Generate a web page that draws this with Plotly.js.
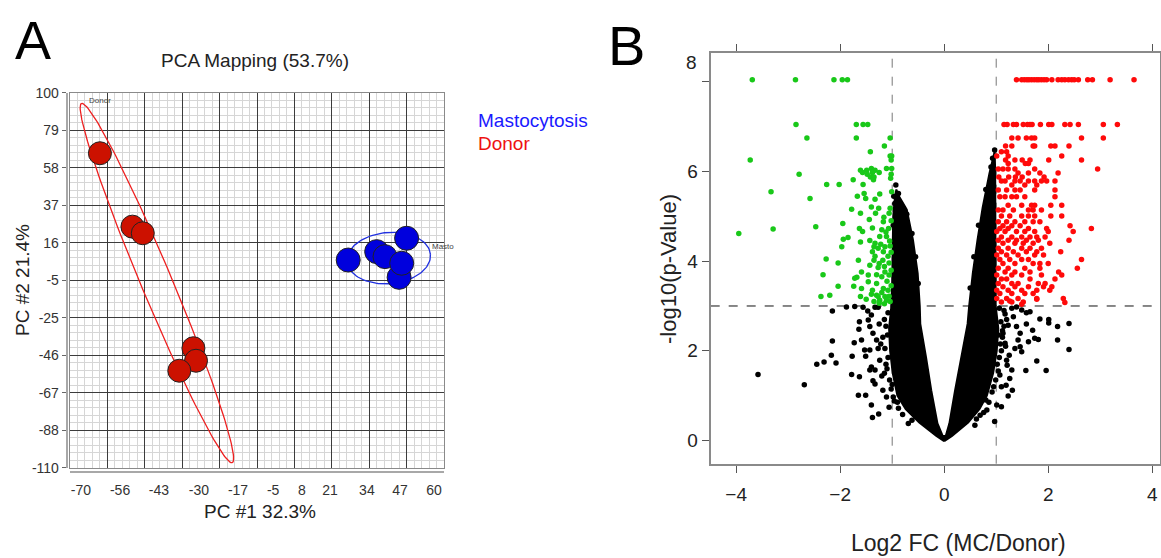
<!DOCTYPE html>
<html><head><meta charset="utf-8">
<script src="https://cdn.plot.ly/plotly-3.0.1.min.js"></script>
<style>html,body{margin:0;padding:0;background:#fff}#chart{width:1161px;height:558px}</style>
</head><body><div id="chart"></div>
<script>
const W = 1161, H = 558;
const F = 'Liberation Sans, Arial, sans-serif';

// ---------- Panel A: PCA ----------
const pcaTitle = 'PCA Mapping (53.7%)';
const pc1Label = 'PC #1 32.3%';
const pc2Label = 'PC #2 21.4%';
const groupNames = ['Mastocytosis', 'Donor'];
const groupTags = ['Masto', 'Donor'];
const pcaXTickLabels = ['-70','-56','-43','-30','-17','-5','8','21','34','47','60'];
const pcaYTickLabels = ['100','79','58','37','16','-5','-25','-46','-67','-88','-110'];
const donorPC1 = [-59.6, -48.3, -44.7, -27.1, -26.2, -32.0];
const donorPC2 = [66.1, 25.0, 21.3, -43.1, -50.1, -55.7];
const mastoPC1 = [26.7, 36.6, 39.5, 47.0, 44.4, 45.3];
const mastoPC2 = [6.3, 11.0, 8.2, 18.5, -3.4, 4.5];
// confidence ellipses: centre + two conjugate half-axis vectors (PC units)
const donorEllipse = {cx: -39.8, cy: -6.6, ux: 26.2, uy: -100.6, vx: 4.97, vy: 3.36};
const mastoEllipse = {cx: 40.8, cy: 7.4, ux: 14.5, uy: 2.07, vx: 0.79, vy: -14.3};

// ---------- Panel B: volcano ----------
const volcXTitle = 'Log2 FC (MC/Donor)';
const volcYTitle = '-log10(p-Value)';
const volcXTicks = [-4, -2, 0, 2, 4];
const volcYTicks = [0, 2, 4, 6, 8];
const fcCut = 1, pCut = 3;
// down-regulated (green): rows of [ -log10 p , [log2FC ...] ]
const downRows = [
 [8.05, [-3.69, -2.86, -2.12, -1.96, -1.86]],
 [7.05, [-2.85, -1.69, -1.56, -1.47]],
 [6.75, [-2.64, -1.69, -1.04]],
 [6.57, [-1.15]], [6.44, [-1.42]], [6.35, [-1.04, -1.01]], [6.26, [-3.73, -1.02]],
 [6.07, [-1.40, -1.11, -1.01]], [6.03, [-1.61, -1.49, -1.33]], [5.98, [-1.57, -1.38, -1.25]],
 [5.94, [-2.79, -1.48, -1.02]], [5.88, [-1.42, -1.35]], [5.85, [-1.03]], [5.82, [-1.75, -1.36]],
 [5.71, [-2.26, -2.02, -1.56]], [5.55, [-3.33, -1.01]], [5.51, [-1.54]], [5.50, [-1.24]],
 [5.45, [-1.67]], [5.40, [-2.58, -1.51]], [5.38, [-1.33]], [5.21, [-1.40]], [5.18, [-1.26, -1.04]],
 [5.16, [-1.78]], [5.07, [-1.61, -1.32, -1.06]], [4.98, [-1.16]], [4.93, [-1.44]], [4.90, [-1.02]],
 [4.88, [-1.17]], [4.84, [-1.95]], [4.77, [-2.47]], [4.73, [-1.63, -1.07]], [4.74, [-1.38]],
 [4.72, [-3.29]], [4.70, [-1.20]], [4.66, [-1.57]], [4.65, [-1.12]], [4.62, [-3.95]],
 [4.55, [-1.24, -1.11]], [4.53, [-1.85]], [4.49, [-1.94]], [4.46, [-1.43]], [4.45, [-1.05]],
 [4.43, [-1.61]], [4.40, [-1.33]], [4.38, [-1.22]], [4.34, [-1.04]], [4.32, [-1.97, -1.35, -1.14]],
 [4.29, [-1.27]], [4.21, [-1.38, -1.17]], [4.20, [-1.02]], [4.11, [-1.33, -1.08]], [4.05, [-2.27]],
 [4.02, [-1.65, -1.35, -1.18]], [3.96, [-2.04, -1.06]], [3.95, [-1.25]], [3.91, [-1.43]],
 [3.88, [-1.15]], [3.86, [-1.27]], [3.80, [-1.02]], [3.76, [-1.59, -1.14]], [3.70, [-2.33, -1.30]],
 [3.69, [-1.46, -1.06]], [3.65, [-1.20]], [3.64, [-1.68]], [3.62, [-1.72]], [3.55, [-1.10]],
 [3.54, [-1.46]], [3.50, [-1.30]], [3.45, [-1.02]], [3.44, [-2.04, -1.74]], [3.39, [-1.59, -1.17]],
 [3.35, [-1.38, -1.08]], [3.30, [-1.20]], [3.26, [-1.40]], [3.24, [-2.20, -1.30]],
 [3.22, [-1.06]], [3.21, [-2.37, -1.61, -1.27, -1.14]], [3.15, [-1.50]], [3.13, [-1.24, -1.11]],
 [3.10, [-1.35, -1.04]], [3.06, [-1.25]], [3.05, [-1.15]]
];
// up-regulated (red)
const upRows = [
 [8.05, [1.39,1.49,1.54,1.59,1.63,1.68,1.73,1.78,1.82,1.87,1.92,1.97,2.07,2.19,2.26,2.32,2.39,2.45,2.50,2.58,2.76,2.85,3.19,3.65]],
 [7.05, [1.15,1.21,1.33,1.39,1.52,1.60,1.65,1.69,1.85,2.01,2.07,2.32,2.42,2.58,3.06,3.33]],
 [6.75, [1.30,1.42,1.58,1.68,1.74,2.64,3.06]],
 [6.57, [1.18,1.30,1.71,1.74,2.05,2.13,2.40]],
 [6.44, [1.10,1.20]],
 [6.35, [1.01,1.23,2.26]],
 [6.26, [1.18,1.36,1.50,1.65,2.01,2.64]],
 [6.18, [1.23,1.56,1.62]],
 [6.06, [1.04,1.13,1.23,1.36,1.74,2.95]],
 [5.97, [1.42,1.62,1.84,2.19]],
 [5.88, [1.05,1.24,1.37,1.50,1.92]],
 [5.79, [1.10,1.17,1.36,1.46,1.62,1.74,1.87,1.97,2.13]],
 [5.70, [1.30,1.55,1.78]],
 [5.59, [1.04,1.20,1.36,1.46,1.74,2.13]],
 [5.44, [1.07,1.17,1.30,1.39,1.55,2.13]],
 [5.25, [1.23,1.49,1.68,1.74,2.05,2.26]],
 [5.14, [1.04,1.13,1.33,1.62,1.71,1.87]],
 [5.01, [1.10,1.26,1.49,1.62,1.74,2.05,2.26]],
 [4.88, [1.04,1.20,1.36,1.55,1.71,1.84]],
 [4.79, [1.13,1.30,1.46,2.42]],
 [4.73, [1.07,1.23,1.62,1.97,2.83]],
 [4.66, [1.01,1.17,1.39,1.55,1.74,2.00,2.48]],
 [4.54, [1.10,1.30,1.49,1.65,1.78,1.94]],
 [4.47, [1.04,1.23,1.39,1.58,1.81,2.40]],
 [4.40, [1.13,1.36,1.52,1.71,2.03]],
 [4.29, [1.04,1.23,1.49,1.65,1.87]],
 [4.21, [1.10,1.33,1.58,1.78,2.24]],
 [4.14, [1.01,1.20,1.42,1.74,1.91]],
 [4.04, [1.07,1.26,1.49,1.62,2.64]],
 [3.95, [1.13,1.36,1.71,1.84,2.00]],
 [3.84, [1.04,1.23,1.55,1.84,2.56]],
 [3.76, [1.17,1.36,1.65,2.20]],
 [3.69, [1.01,1.30,1.49,1.87,2.26]],
 [3.60, [1.10,1.20,1.65,2.13]],
 [3.50, [1.04,1.30,1.42,1.81,1.94]],
 [3.43, [1.13,1.36,1.62,1.91,2.07]],
 [3.35, [1.01,1.23,1.49,1.78,2.03]],
 [3.28, [1.07,1.30,1.55,1.71]],
 [3.17, [1.01,1.20,1.42,1.78,2.29]],
 [3.11, [1.26]],
 [3.09, [1.10,1.30,1.52]],
 [3.15, [1.78]],
 [3.08, [2.32]],
 [3.04, [1.49]]
];
// dense non-significant core (outline of the V-shaped cloud): [log2FC, -log10 p]
const coreOutline = [
 [0,-0.02],[-0.15,0.1],[-0.48,0.4],[-0.74,0.7],[-0.9,1.0],[-0.99,1.5],[-1.04,2.0],[-1.06,2.5],
 [-1.02,2.95],[-1.0,3.5],[-0.99,4.3],[-0.98,5.0],[-0.95,5.4],[-0.92,5.6],[-0.87,5.45],
 [-0.72,5.15],[-0.6,4.47],[-0.51,3.73],[-0.47,3.0],[-0.46,2.6],[-0.35,1.86],[-0.25,1.12],
 [-0.13,0.38],[-0.03,0.1],[0.03,0.1],[0.10,0.38],[0.21,1.12],[0.33,1.86],[0.45,2.6],
 [0.48,3.0],[0.55,3.73],[0.64,4.47],[0.74,5.2],[0.87,5.96],[0.94,6.35],[0.97,6.45],[0.98,6.0],
 [0.98,5.0],[0.98,4.0],[0.99,3.0],[1.04,2.5],[1.01,2.0],[0.94,1.5],[0.82,1.0],[0.68,0.7],
 [0.46,0.4],[0.15,0.1],[0,-0.02]
];
// scattered non-significant genes (black)
const nsGenes = [
 [-3.58,1.47],[-2.69,1.24],[-2.45,1.70],[-2.31,1.75],[-2.17,1.90],[-2.15,2.22],[-2.08,1.73],
 [-2.15,2.89],[-1.88,2.98],[-1.72,2.99],[-1.77,1.88],[-1.78,1.47],[-1.73,2.18],[-1.63,1.42],
 [-1.65,1.01],[-1.51,1.01],[-1.59,2.24],[-1.64,2.48],[-1.63,2.65],[-1.53,2.02],[-1.51,1.88],
 [-1.43,2.02],[-1.40,0.79],[-1.38,0.51],[-1.26,0.59],[-1.37,1.33],[-1.33,1.26],[-1.43,1.57],
 [-1.33,1.57],[-1.40,1.64],[-1.47,2.89],[-1.40,2.80],[-1.46,2.69],[-1.43,2.54],[-1.37,2.39],
 [-1.30,2.24],[-1.27,2.05],[-1.24,1.79],[-1.20,1.44],[-1.18,1.12],[-1.11,0.97],[-1.06,0.74],
 [-0.98,0.97],[-1.33,2.97],[-1.27,2.97],[-1.56,2.97],[-0.69,0.38],
 [2.40,2.61],[2.40,2.03],[2.18,2.54],[2.18,2.24],[2.01,2.70],[2.01,2.62],[1.96,1.56],[1.78,1.77],
 [1.57,1.56],[1.84,2.71],[1.81,2.25],[1.74,2.28],[1.70,2.46],[1.58,2.60],[1.62,2.20],[1.65,2.87],
 [1.58,2.85],[1.49,2.91],[1.46,2.39],[1.46,2.09],[1.49,1.98],[1.42,2.24],[1.36,2.05],[1.39,2.54],
 [1.33,2.76],[1.30,1.57],[1.31,1.12],[1.23,0.99],[1.19,1.23],[1.26,1.38],[1.10,0.75],[1.01,0.79],
 [0.97,0.42],[1.20,1.79],[1.25,1.90],[1.21,1.68],[1.17,2.17],[1.13,2.39],[1.23,2.57],[1.17,2.82],
 [1.30,2.95],[1.39,2.98],[1.07,1.46],[1.10,1.20],[0.69,0.56],[0.82,0.68],[0.59,0.34],
 [-0.93,5.70],[-0.88,5.51],[-0.95,5.29],[-0.72,5.05],[-0.62,4.62],[-0.55,4.10],[-0.50,3.50],
 [0.97,6.48],[0.93,6.30],[0.90,6.10],[0.80,5.60],[0.66,4.80],[0.57,4.10],[0.50,3.40],
 [-1.15,2.70],[-1.25,2.60],[-1.18,2.30],[-1.22,2.15],[-1.12,1.70],[-1.15,1.50],[-1.00,1.25],
 [-0.90,0.85],[1.15,2.90],[1.20,2.70],[1.12,2.30],[1.10,2.00],[1.02,1.70],[0.95,1.20],[0.80,0.90],
 [-1.08,2.85],[-1.12,2.55],[-1.09,2.35],[-1.14,2.05],[-1.08,1.85],[-1.10,1.60],[-1.05,1.35],
 [-1.02,1.15],[-0.96,0.88],[-0.88,0.72],[-0.80,0.58],[-0.62,0.45],[-0.98,4.8],[-0.97,5.45],
 [1.06,2.95],[1.09,2.65],[1.12,2.45],[1.08,2.15],[1.06,1.85],[1.04,1.55],[0.99,1.35],
 [0.92,1.08],[0.86,0.85],[0.76,0.62],[0.62,0.48],[1.04,2.35],[1.15,2.55],[1.18,2.1]
];

// ---------- helpers ----------
function rowsToXY(rows){ const x=[], y=[]; rows.forEach(([yy, xs]) => xs.forEach(v => { x.push(v); y.push(yy); })); return {x, y}; }
function pairsToXY(p){ return {x: p.map(d => d[0]), y: p.map(d => d[1])}; }
function ellipse(e, n){ const x=[], y=[]; for (let i=0;i<=n;i++){ const t=2*Math.PI*i/n; x.push(e.cx+e.ux*Math.cos(t)+e.vx*Math.sin(t)); y.push(e.cy+e.uy*Math.cos(t)+e.vy*Math.sin(t)); } return {x, y}; }
const px2x = p => p / W, px2y = p => (H - p) / H;

const down = rowsToXY(downRows), up = rowsToXY(upRows);
const core = pairsToXY(coreOutline), ns = pairsToXY(nsGenes);
const eD = ellipse(donorEllipse, 160), eM = ellipse(mastoEllipse, 120);

const gridX = pcaXTickLabels.map((_, k) => -70 + 13 * k);
const gridY = pcaYTickLabels.map((_, k) => 100 - 21 * k);
const labelPosX = [-66.2, -52.6, -39.1, -25.2, -11.6, 0.6, 10.6, 20.4, 33.2, 44.7, 56.5];

const traces = [
  {type:'scatter', mode:'lines', x:eD.x, y:eD.y, xaxis:'x', yaxis:'y', line:{color:'#ee2020', width:1.3}, hoverinfo:'skip', showlegend:false},
  {type:'scatter', mode:'lines', x:eM.x, y:eM.y, xaxis:'x', yaxis:'y', line:{color:'#2030e0', width:1.3}, hoverinfo:'skip', showlegend:false},
  {type:'scatter', mode:'markers', name:groupNames[1], x:donorPC1, y:donorPC2, xaxis:'x', yaxis:'y',
   marker:{size:23, color:'#cc1100', line:{color:'#222', width:1}}, showlegend:false},
  {type:'scatter', mode:'markers', name:groupNames[0], x:mastoPC1, y:mastoPC2, xaxis:'x', yaxis:'y',
   marker:{size:24, color:'#0000dd', line:{color:'#222', width:1}}, showlegend:false},
  {type:'scatter', x:[], y:[], xaxis:'x3', yaxis:'y', showlegend:false},
  {type:'scatter', x:[], y:[], xaxis:'x', yaxis:'y3', showlegend:false},
  // volcano
  {type:'scatter', mode:'lines', x:core.x, y:core.y, xaxis:'x4', yaxis:'y4', fill:'toself', fillcolor:'#000',
   line:{color:'#000', width:2}, hoverinfo:'skip', showlegend:false},
  {type:'scatter', mode:'markers', x:ns.x, y:ns.y, xaxis:'x4', yaxis:'y4', marker:{size:5.5, color:'#000'}, showlegend:false},
  {type:'scatter', mode:'markers', x:down.x, y:down.y, xaxis:'x4', yaxis:'y4', marker:{size:5.5, color:'#19c819'}, showlegend:false},
  {type:'scatter', mode:'markers', x:up.x, y:up.y, xaxis:'x4', yaxis:'y4', marker:{size:5.5, color:'#ff0a0a'}, showlegend:false}
];

const domXA = [70/W, 444/W], domYA = [px2y(467.7), px2y(92.7)];
const domXB = [710.7/W, 1159.5/W], domYB = [px2y(463.7), px2y(53.3)];

function ann(text, x, y, size, color, extra){
  return Object.assign({text, xref:'paper', yref:'paper', x:px2x(x), y:px2y(y), xanchor:'center', yanchor:'middle',
    showarrow:false, font:{family:F, size, color}}, extra || {});
}

const layout = {
  width: W, height: H, margin:{l:0, r:0, t:0, b:0}, paper_bgcolor:'#fff', plot_bgcolor:'#fff',
  font:{family:F, color:'#222'}, showlegend:false,
  xaxis:{domain:domXA, range:[-70,60], anchor:'y', tickmode:'array', tickvals:gridX, showticklabels:false, ticks:'',
    showgrid:true, gridcolor:'#3c3c3c', gridwidth:1, zeroline:false, showline:true, mirror:true, linecolor:'#8a8a8a', linewidth:1,
    minor:{tickmode:'linear', tick0:-70, dtick:2.6, showgrid:true, gridcolor:'#d6d6d6', gridwidth:1, ticks:''}, fixedrange:true},
  yaxis:{domain:domYA, range:[-110,100], anchor:'x', tickmode:'array', tickvals:gridY, showticklabels:false, ticks:'',
    showgrid:true, gridcolor:'#3c3c3c', gridwidth:1, zeroline:false, showline:true, mirror:true, linecolor:'#8a8a8a', linewidth:1,
    minor:{tickmode:'linear', tick0:-110, dtick:4.2, showgrid:true, gridcolor:'#d6d6d6', gridwidth:1, ticks:''}, fixedrange:true},
  xaxis3:{overlaying:'x', anchor:'free', position:px2y(472), range:[-70,60], tickmode:'array', tickvals:labelPosX, ticktext:pcaXTickLabels,
    showgrid:false, zeroline:false, showline:true, linecolor:'#a8a8a8', linewidth:2, ticks:'outside', ticklen:5, tickcolor:'rgba(0,0,0,0)',
    tickfont:{family:F, size:14, color:'#333'}},
  yaxis3:{overlaying:'y', anchor:'free', position:66.7/W, side:'left', range:[-110,100], tickmode:'array', tickvals:gridY, ticktext:pcaYTickLabels,
    showgrid:false, zeroline:false, showline:true, linecolor:'#a8a8a8', linewidth:2, ticks:'outside', ticklen:4, tickcolor:'#666',
    tickfont:{family:F, size:14, color:'#333'}},
  xaxis4:{domain:domXB, anchor:'y4', range:[-4.49,4.14], tickmode:'array', tickvals:volcXTicks, ticks:'outside', ticklen:7, tickcolor:'#555',
    showline:true, mirror:'ticks', linecolor:'#8a8a8a', linewidth:2, showgrid:false, zeroline:false, ticklabelstandoff:5,
    tickfont:{family:F, size:19, color:'#222'}},
  yaxis4:{domain:domYB, anchor:'x4', range:[-0.52,8.64], tickmode:'array', tickvals:volcYTicks, ticktext:volcYTicks.map(v => v === 8 ? '' : String(v)),
    ticks:'outside', ticklen:7, tickcolor:'#555', showline:true, mirror:true, linecolor:'#8a8a8a', linewidth:2, showgrid:false, zeroline:false,
    tickfont:{family:F, size:19, color:'#222'}},
  shapes:[
    {type:'line', xref:'x4', yref:'y4 domain', x0:-fcCut, x1:-fcCut, y0:0, y1:1, line:{color:'#777', width:1, dash:'dash'}, layer:'below'},
    {type:'line', xref:'x4', yref:'y4 domain', x0:fcCut, x1:fcCut, y0:0, y1:1, line:{color:'#777', width:1, dash:'dash'}, layer:'below'},
    {type:'line', xref:'x4 domain', yref:'y4', x0:0, x1:1, y0:pCut, y1:pCut, line:{color:'#111', width:1, dash:'dash'}, layer:'below'}
  ],
  annotations:[
    ann('A', 33, 40, 54, '#000'),
    ann('B', 626, 45, 56, '#000'),
    ann(pcaTitle, 255, 61, 19, '#222'),
    ann(pc1Label, 260, 511, 19, '#222'),
    ann(pc2Label, 22, 280, 19, '#222', {textangle:-90}),
    ann(groupNames[0], 476, 120, 19, '#1a1aff', {xanchor:'left'}),
    ann(groupNames[1], 476, 143, 19, '#ee1111', {xanchor:'left'}),
    {text:groupTags[1], xref:'x', yref:'y', x:-64.1, y:95.4, xanchor:'left', yanchor:'middle', showarrow:false, font:{family:F, size:8, color:'#444'}},
    {text:groupTags[0], xref:'x', yref:'y', x:55.1, y:14.1, xanchor:'left', yanchor:'middle', showarrow:false, font:{family:F, size:8, color:'#444'}},
    ann(volcXTitle, 958, 543, 23, '#222'),
    ann(volcYTitle, 668, 269, 22, '#222', {textangle:-90}),
    ann(String(volcYTicks[4]), 699, 62, 19, '#222', {xanchor:'right'})
  ]
};

Plotly.newPlot('chart', traces, layout, {displayModeBar:false, staticPlot:true});
</script>
</body></html>
